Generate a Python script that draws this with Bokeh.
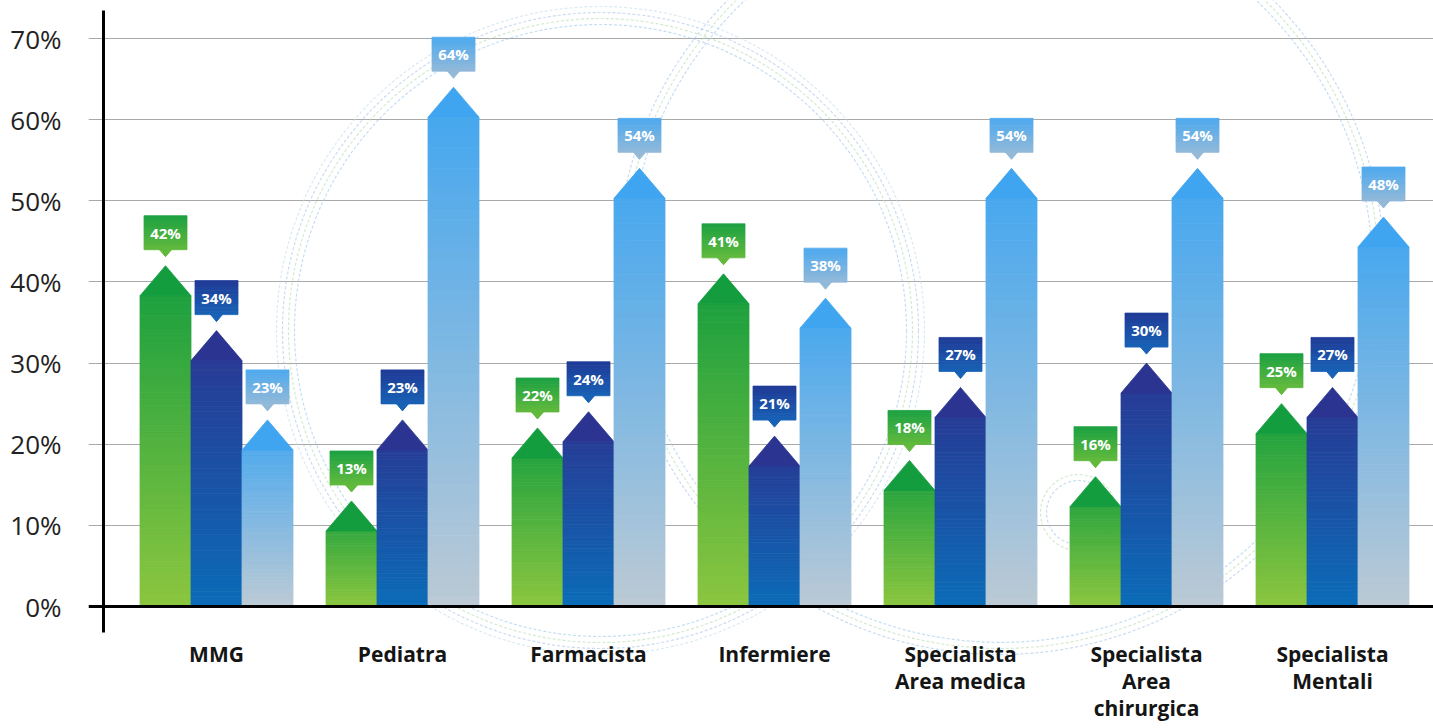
from bokeh.plotting import figure
from bokeh.models import Range1d, FixedTicker, Span
from bokeh.core.properties import value
from bokeh.embed import file_html
from bokeh.resources import INLINE

# ---------------- data ----------------
categories = ["MMG", "Pediatra", "Farmacista", "Infermiere",
              "Specialista\nArea medica", "Specialista\nArea\nchirurgica",
              "Specialista\nMentali"]
serie_verde = [42, 13, 22, 41, 18, 16, 25]
serie_blu = [34, 23, 24, 21, 27, 30, 27]
serie_azzurra = [23, 64, 54, 38, 54, 54, 48]
y_ticks = [0, 10, 20, 30, 40, 50, 60, 70]

# ---------------- layout ----------------
W, H = 1433, 728
BORDER_L = 88
FRAME_W = W - BORDER_L
FRAME_H = H
X0, X1 = (BORDER_L - 216) / 186, (W - 216) / 186
Y0, Y1 = (606 - H) / 8.114, 606 / 8.114
PX_X = (X1 - X0) / FRAME_W    # data units per pixel (x)
PX_Y = (Y1 - Y0) / FRAME_H    # data units per pixel (y)

p = figure(width=W, height=H, output_backend="svg", toolbar_location=None,
           x_range=Range1d(X0, X1), y_range=Range1d(Y0, Y1),
           min_border_left=BORDER_L, min_border_right=0,
           min_border_top=0, min_border_bottom=0)
p.outline_line_color = None
p.background_fill_color = "white"
p.border_fill_color = "white"

p.xaxis.visible = False
p.xgrid.visible = False
p.yaxis.ticker = FixedTicker(ticks=y_ticks)
p.yaxis.major_label_overrides = {t: f"{t}%" for t in y_ticks}
p.yaxis.axis_line_color = None
p.yaxis.major_tick_line_color = None
p.yaxis.minor_tick_line_color = None
p.yaxis.major_label_standoff = 21
p.yaxis.major_label_text_font = "Open Sans"
p.yaxis.major_label_text_font_size = "26px"
p.yaxis.major_label_text_color = "#222222"
p.ygrid.ticker = FixedTicker(ticks=y_ticks[1:])
p.ygrid.grid_line_color = "#a9a9a9"
p.ygrid.grid_line_width = 1


def hex2rgb(h):
    h = h.lstrip("#")
    return tuple(int(h[i:i + 2], 16) for i in (0, 2, 4))


def mix(c1, c2, t):
    a, b = hex2rgb(c1), hex2rgb(c2)
    return "#%02x%02x%02x" % tuple(int(round(a[i] + (b[i] - a[i]) * t)) for i in range(3))


def px_x(px):
    return X0 + (px - BORDER_L) * PX_X


def px_y(py):
    return (606 - py) / 8.114


# ---------------- decorative background swirls ----------------
deco = [  # (center px x, center px y, radius px, colour)
    (600, 330, 306, "#9cc8ea"), (600, 330, 312, "#b6dcb0"), (600, 330, 318, "#a9c3e6"),
    (600, 330, 324, "#c2dcef"),
    (1000, 270, 372, "#9cc8ea"), (1000, 270, 378, "#b6dcb0"), (1000, 270, 384, "#a9c3e6"),
    (-230, 380, 300, "#9cc8ea"), (-230, 380, 307, "#b6dcb0"), (-230, 380, 314, "#a9c3e6"),
    (1078, 512, 32, "#9cc8ea"), (1078, 512, 38, "#b6dcb0"),
]
for cx, cy, r, col in deco:
    p.scatter([px_x(cx)], [px_y(cy)], marker="circle",
              size=2 * r, fill_color=None, line_color=col, line_width=1.2,
              line_alpha=0.6, line_dash="3 2")

# ---------------- bars ----------------
series = [
    (serie_verde, "#139d3f", "#8cc63f", "#1ca142", "#62ba3c"),
    (serie_blu, "#2b3591", "#0b6cb8", "#1f3a96", "#1862b6"),
    (serie_azzurra, "#3fa5f0", "#bccad5", "#4da9ee", "#93b9d9"),
]
BAR_W = 51 * PX_X
OFFS = [-BAR_W, 0.0, BAR_W]
HEAD = 30 * PX_Y
N = 48

for si, (vals, top_c, bot_c, box_top, box_bot) in enumerate(series):
    L, R, B, T, C = [], [], [], [], []
    hx, hy, hc = [], [], []
    for ci, v in enumerate(vals):
        xc = ci + OFFS[si]
        shoulder = v - HEAD
        for k in range(N):
            b = shoulder * k / N
            t = shoulder * (k + 1) / N
            L.append(xc - BAR_W / 2)
            R.append(xc + BAR_W / 2)
            B.append(b)
            T.append(t)
            C.append(mix(bot_c, top_c, ((b + t) / 2) / v))
        hx.append([xc - BAR_W / 2, xc, xc + BAR_W / 2])
        hy.append([shoulder, v, shoulder])
        hc.append(top_c)
    p.quad(left=L, right=R, bottom=B, top=T, fill_color=C, line_color=C, line_width=0.8)
    p.patches(hx, hy, fill_color=hc, line_color=hc, line_width=0.8)

# baseline and vertical axis line
p.add_layout(Span(location=0, dimension="width", line_color="black", line_width=3))
xa = px_x(103)
p.segment(x0=[xa], y0=[px_y(632)], x1=[xa], y1=[px_y(10)],
          line_color="black", line_width=3)

# ---------------- value callouts ----------------
BOX_W = 43 * PX_X
BOX_H = 34 * PX_Y
PTR_H = 7 * PX_Y
PTR_W = 6 * PX_X
GAP = 9 * PX_Y
NB = 10
for si, (vals, top_c, bot_c, box_top, box_bot) in enumerate(series):
    L, R, B, T, C = [], [], [], [], []
    px, py = [], []
    tx, ty, tt = [], [], []
    for ci, v in enumerate(vals):
        xc = ci + OFFS[si]
        ptr_tip = v + GAP
        bb = ptr_tip + PTR_H
        for k in range(NB):
            b = bb + BOX_H * k / NB
            t = bb + BOX_H * (k + 1) / NB
            L.append(xc - BOX_W / 2)
            R.append(xc + BOX_W / 2)
            B.append(b)
            T.append(t)
            C.append(mix(box_bot, box_top, (k + 0.5) / NB))
        px.append([xc - PTR_W, xc, xc + PTR_W])
        py.append([bb + 0.01, ptr_tip, bb + 0.01])
        tx.append(xc)
        ty.append(bb + BOX_H / 2)
        tt.append(f"{v}%")
    p.quad(left=L, right=R, bottom=B, top=T, fill_color=C, line_color=C, line_width=0.8)
    p.patches(px, py, fill_color=box_bot, line_color=box_bot)
    p.text(x=tx, y=ty, text=tt, text_align="center", text_baseline="middle",
           text_font=value("Open Sans"), text_font_style="bold",
           text_font_size="15px", text_color="white")

# ---------------- category labels ----------------
p.text(x=list(range(len(categories))), y=[px_y(639)] * len(categories),
       text=categories, text_align="center", text_baseline="top",
       text_font=value("Open Sans"), text_font_style="bold",
       text_font_size="21px", text_color="#151515", text_line_height=0.98)

open("out.html", "w").write(file_html(p, INLINE))
